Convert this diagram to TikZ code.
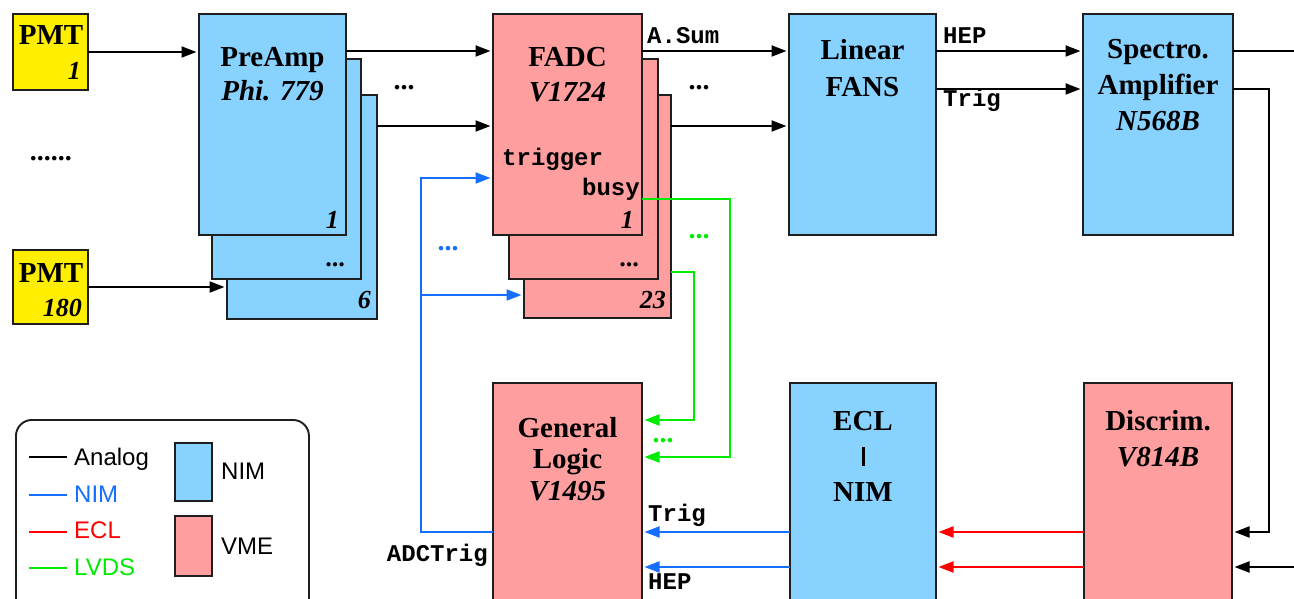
\documentclass[tikz,border=0pt]{standalone}
\usepackage{fontspec}
\setmainfont{Liberation Serif}
\setsansfont{Liberation Sans}
\setmonofont{Liberation Mono}
\usetikzlibrary{arrows.meta}
\definecolor{nimblue}{RGB}{135,210,255}
\definecolor{vmepink}{RGB}{255,158,158}
\definecolor{pmtyellow}{RGB}{255,238,0}
\definecolor{sigblue}{RGB}{20,110,255}
\definecolor{sigred}{RGB}{255,0,0}
\definecolor{siggreen}{RGB}{0,235,0}
\definecolor{edgecol}{RGB}{30,30,30}
\tikzset{
 box/.style={draw=edgecol, line width=1.9pt, anchor=north west, inner sep=0pt, outer sep=0pt, rectangle},
 nimbox/.style={box, fill=nimblue},
 vmebox/.style={box, fill=vmepink},
 pmtbox/.style={box, fill=pmtyellow},
 title/.style={font=\fontsize{29}{29}\selectfont\bfseries, anchor=base, inner sep=0pt},
 model/.style={font=\fontsize{29}{29}\selectfont\bfseries\itshape, anchor=base, inner sep=0pt},
 idx/.style={font=\fontsize{26}{26}\selectfont\bfseries\itshape, anchor=base east, inner sep=0pt},
 ttl/.style={font=\fontsize{24}{24}\selectfont\ttfamily\bfseries, inner sep=0pt},
 leg/.style={font=\fontsize{24}{24}\selectfont\sffamily, anchor=base west, inner sep=0pt},
 sig/.style={line width=2pt, -{Triangle[length=15pt,width=11pt]}, shorten >=2.5pt},
 wire/.style={line width=2pt},
 dots/.style={font=\fontsize{28}{28}\selectfont\bfseries, inner sep=0pt, anchor=base},
}
\begin{document}
\begin{tikzpicture}[x=1pt,y=-1pt]
\useasboundingbox (0,0) rectangle (1294,599);
\clip (0,0) rectangle (1294,599);

% PMTs
\node[pmtbox, minimum width=75pt, minimum height=76pt] (pmt1) at (13,14) {};
\node[pmtbox, minimum width=75pt, minimum height=74pt] (pmt180) at (13,250) {};
\node[title] (tpmt1) at (51,45) {PMT};
\node[idx] (ipmt1) at (81,80) {1};
\node[title] (tpmt180) at (51,282) {PMT};
\node[idx] (ipmt180) at (82,316) {180};
\node[dots] (ldots) at (51,161) {......};

% PreAmp stack
\node[nimbox, minimum width=150pt, minimum height=224pt] (preampC) at (227,95) {};
\node[nimbox, minimum width=149pt, minimum height=220pt] (preampB) at (212,59) {};
\node[nimbox, minimum width=147pt, minimum height=221pt] (preampA) at (199,14) {};
\node[title] (tpre) at (272.5,67) {PreAmp};
\node[model] (mpre) at (272.5,101) {Phi. 779};
\node[idx] (ipreA) at (339,228) {1};
\node[idx] (ipreB) at (346,266) {...};
\node[idx] (ipreC) at (371,308) {6};

% FADC stack
\node[vmebox, minimum width=147pt, minimum height=223pt] (fadcC) at (524,95) {};
\node[vmebox, minimum width=149pt, minimum height=220pt] (fadcB) at (509,59) {};
\node[vmebox, minimum width=149pt, minimum height=221pt] (fadcA) at (493,14) {};
\node[title] (tfadc) at (567.5,67) {FADC};
\node[model] (mfadc) at (567.5,102) {V1724};
\node[ttl, anchor=base west] (ttrig) at (502,166) {trigger};
\node[ttl, anchor=base east] (tbusy) at (640,196) {busy};
\node[idx] (ifadcA) at (634,229) {1};
\node[idx] (ifadcB) at (640,266) {...};
\node[idx] (ifadcC) at (666,308) {23};

% Linear FANS
\node[nimbox, minimum width=147pt, minimum height=221pt] (fans) at (789,14) {};
\node[title] (tfans1) at (862.5,60) {Linear};
\node[title] (tfans2) at (862.5,97) {FANS};

% Spectro amplifier
\node[nimbox, minimum width=150pt, minimum height=221pt] (spectro) at (1083,14) {};
\node[title] (tsp1) at (1158,59) {Spectro.};
\node[title] (tsp2) at (1158,95) {Amplifier};
\node[model] (msp) at (1158,131) {N568B};

% Bottom row
\node[vmebox, minimum width=149pt, minimum height=240pt] (gl) at (493,383) {};
\node[title] (tgl1) at (567.5,437) {General};
\node[title] (tgl2) at (567.5,468) {Logic};
\node[model] (mgl) at (567.5,500) {V1495};

\node[nimbox, minimum width=146pt, minimum height=240pt] (ecl) at (790,383) {};
\node[title] (tecl1) at (863,430) {ECL};
\node[title] (tecl2) at (863,466) {\rule{3pt}{19pt}};
\node[title] (tecl3) at (863,501) {NIM};

\node[vmebox, minimum width=148pt, minimum height=240pt] (discrim) at (1084,383) {};
\node[title] (tdis) at (1158,430) {Discrim.};
\node[model] (mdis) at (1158,466) {V814B};

% Legend
\node[draw=edgecol, line width=1.9pt, rounded corners=16pt, anchor=north west, inner sep=0pt, minimum width=293pt, minimum height=220pt] (legend) at (15,419) {};
\coordinate (la1) at (29,457); \coordinate (la2) at (67,457);
\coordinate (lb1) at (29,495); \coordinate (lb2) at (67,495);
\coordinate (lc1) at (29,532); \coordinate (lc2) at (67,532);
\coordinate (ld1) at (29,568); \coordinate (ld2) at (67,568);
\draw[wire] (la1) -- (la2);
\draw[wire, sigblue] (lb1) -- (lb2);
\draw[wire, sigred] (lc1) -- (lc2);
\draw[wire, siggreen] (ld1) -- (ld2);
\node[leg] (lta) at (74,465) {Analog};
\node[leg, text=sigblue] (ltb) at (74,502) {NIM};
\node[leg, text=sigred] (ltc) at (74,538) {ECL};
\node[leg, text=siggreen] (ltd) at (74,575) {LVDS};
\node[nimbox, minimum width=37pt, minimum height=58pt] (swnim) at (175,443) {};
\node[vmebox, minimum width=37pt, minimum height=60pt] (swvme) at (175,516) {};
\node[leg] (ltnim) at (221,479) {NIM};
\node[leg] (ltvme) at (221,554) {VME};

% helper rows / columns
\coordinate (rowA) at (0,51);
\coordinate (rowB) at (0,126);
\coordinate (rowS) at (0,89);
\coordinate (rowTrig) at (0,178);
\coordinate (rowBr) at (0,295);
\coordinate (rowBusy) at (0,199);
\coordinate (rowBusy2) at (0,272);
\coordinate (rowG1) at (0,420);
\coordinate (rowG2) at (0,457);
\coordinate (rowL1) at (0,532);
\coordinate (rowL2) at (0,567);
\coordinate (adcX) at (421,0);
\coordinate (gX1) at (730,0);
\coordinate (gX2) at (694,0);
\coordinate (sX) at (1269,0);
\coordinate (edgeR) at (1320,0);

% Analog connectors
\draw[sig] (pmt1.east) -- (pmt1.east -| preampA.west);
\draw[sig] (pmt180.east) -- (pmt180.east -| preampC.west);
\draw[sig] (preampA.east |- rowA) -- (fadcA.west |- rowA);
\draw[sig] (preampC.east |- rowB) -- (fadcA.west |- rowB);
\draw[sig] (fadcA.east |- rowA) -- (fans.west |- rowA);
\draw[sig] (fadcC.east |- rowB) -- (fans.west |- rowB);
\draw[sig] (fans.east |- rowA) -- (spectro.west |- rowA);
\draw[sig] (fans.east |- rowS) -- (spectro.west |- rowS);
\draw[wire] (spectro.east |- rowA) -- (edgeR |- rowA);
\draw[sig] (spectro.east |- rowS) -- (sX |- rowS) -- (sX |- rowL1) -- (discrim.east |- rowL1);
\draw[sig] (edgeR |- rowL2) -- (discrim.east |- rowL2);
\node[dots] (d1) at (404,90) {...};
\node[dots] (d2) at (699,90) {...};

% labels on analog lines
\node[ttl, anchor=base west] (lasum) at (647,44) {A.Sum};
\node[ttl, anchor=base west] (lhep) at (943,44) {HEP};
\node[ttl, anchor=base west] (ltrig) at (943,107) {Trig};

% NIM (blue) connectors
\draw[sig, sigblue] (gl.west |- rowL1) -- (adcX |- rowL1) -- (adcX |- rowTrig) -- (fadcA.west |- rowTrig);
\draw[sig, sigblue] (adcX |- rowBr) -- (fadcC.west |- rowBr);
\node[dots, text=sigblue] (d3) at (448,250) {...};
\node[ttl, anchor=base east] (ladc) at (488,561) {ADCTrig};
\draw[sig, sigblue] (ecl.west |- rowL1) -- (gl.east |- rowL1);
\draw[sig, sigblue] (ecl.west |- rowL2) -- (gl.east |- rowL2);
\node[ttl, anchor=base west] (ltrig2) at (648,521) {Trig};
\node[ttl, anchor=base west] (lhep2) at (648,589) {HEP};

% ECL (red) connectors
\draw[sig, sigred] (discrim.west |- rowL1) -- (ecl.east |- rowL1);
\draw[sig, sigred] (discrim.west |- rowL2) -- (ecl.east |- rowL2);

% LVDS (green) connectors
\draw[sig, siggreen] (fadcA.east |- rowBusy) -- (gX1 |- rowBusy) -- (gX1 |- rowG2) -- (gl.east |- rowG2);
\draw[sig, siggreen] (fadcC.east |- rowBusy2) -- (gX2 |- rowBusy2) -- (gX2 |- rowG1) -- (gl.east |- rowG1);
\node[dots, text=siggreen] (d4) at (699,238) {...};
\node[dots, text=siggreen] (d5) at (663,442) {...};
\end{tikzpicture}
\end{document}
